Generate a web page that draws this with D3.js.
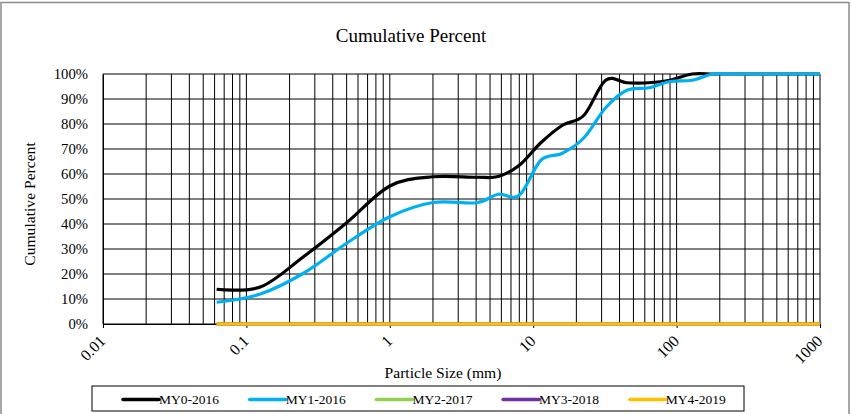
<!DOCTYPE html>
<html>
<head>
<meta charset="utf-8">
<script src="https://cdn.jsdelivr.net/npm/d3@7"></script>
<style>
  html, body { margin: 0; padding: 0; background: #fff; }
  svg { display: block; font-family: "Liberation Serif", "Times New Roman", serif; }
  svg text { font-family: "Liberation Serif", "Times New Roman", serif; }
</style>
</head>
<body>
<svg id="chart" width="852" height="414"></svg>
<script>
// ---- data ----
const sizes = [0.062, 0.125, 0.25, 0.5, 1, 2, 4, 5.7, 8, 11.3, 16, 22.6, 32, 45, 64, 90, 128, 180, 256, 362, 512, 1024];
const my0_2016 = [13.9, 14.8, 26.9, 40.5, 55.2, 58.9, 58.7, 59.0, 63.5, 72.5, 79.5, 83.5, 97.5, 96.5, 96.5, 97.5, 100, 100, 100, 100, 100, 100];
const my1_2016 = [8.7, 12.0, 20.3, 32.3, 42.9, 48.6, 48.5, 51.9, 51.5, 65.5, 68.3, 74.5, 86.5, 93.5, 94.5, 97.0, 97.5, 100, 100, 100, 100, 100];
const my2_2017 = [0, 0, 0, 0, 0, 0, 0, 0, 0, 0, 0, 0, 0, 0, 0, 0, 0, 0, 0, 0, 0, 0];
const my3_2018 = [0, 0, 0, 0, 0, 0, 0, 0, 0, 0, 0, 0, 0, 0, 0, 0, 0, 0, 0, 0, 0, 0];
const my4_2019 = [0, 0, 0, 0, 0, 0, 0, 0, 0, 0, 0, 0, 0, 0, 0, 0, 0, 0, 0, 0, 0, 0];
const seriesNames = ["MY0-2016", "MY1-2016", "MY2-2017", "MY3-2018", "MY4-2019"];
const seriesColors = ["#000000", "#00B0F0", "#92D050", "#7030A0", "#FFC000"];
const xTickValues = [0.01, 0.1, 1, 10, 100, 1000];
const xTickLabels = ["0.01", "0.1", "1", "10", "100", "1000"];
const yTickValues = [0, 10, 20, 30, 40, 50, 60, 70, 80, 90, 100];
const titleText = "Cumulative Percent";
const xTitle = "Particle Size (mm)";
const yTitle = "Cumulative Percent";

// ---- layout ----
const FONT = "Liberation Serif, Times New Roman, serif";
const svg = d3.select("#chart");
const L = 103, R = 820, T = 74, B = 324;

const x = d3.scaleLog().domain([0.01, 1000]).range([L, R]);
const y = d3.scaleLinear().domain([0, 100]).range([B, T]);

// outer frame
svg.append("rect").attr("x", 1).attr("y", 2.5).attr("width", 848).attr("height", 430)
  .attr("fill", "none").attr("stroke", "#8c8c8c").attr("stroke-width", 1.5);

// title
svg.append("text").attr("x", 411).attr("y", 42).attr("text-anchor", "middle")
  .attr("font-family", FONT).attr("font-size", 19).attr("fill", "#000").text(titleText);

// gridlines vertical (log minor grid)
const vGrid = [];
for (let e = -2; e < 3; e++) {
  for (let k = 1; k <= 9; k++) vGrid.push(k * Math.pow(10, e));
}
vGrid.push(1000);
svg.append("g").selectAll("line").data(vGrid).join("line")
  .attr("x1", d => x(d)).attr("x2", d => x(d))
  .attr("y1", T).attr("y2", B)
  .attr("stroke", "#000").attr("stroke-width", 1);

// gridlines horizontal
svg.append("g").selectAll("line").data(yTickValues).join("line")
  .attr("x1", L).attr("x2", R)
  .attr("y1", d => y(d)).attr("y2", d => y(d))
  .attr("stroke", "#000").attr("stroke-width", 1);

// y axis
const yAxis = d3.axisLeft(y).tickValues(yTickValues).tickSize(0).tickPadding(15)
  .tickFormat(d => d + "%");
const gy = svg.append("g").attr("transform", `translate(${L},0)`).call(yAxis);
gy.attr("font-family", FONT);
gy.select(".domain").attr("stroke", "#000").attr("stroke-width", 1);
gy.selectAll("text").attr("font-size", 14.7).attr("fill", "#000").attr("font-family", FONT);

// x axis
const xAxis = d3.axisBottom(x).tickValues(xTickValues).tickSize(4)
  .tickFormat((d, i) => xTickLabels[i]);
const gx = svg.append("g").attr("transform", `translate(0,${B})`).call(xAxis);
gx.attr("font-family", FONT);
gx.select(".domain").attr("stroke", "#000").attr("stroke-width", 1);
gx.selectAll(".tick line").attr("stroke", "#000");
gx.selectAll("text")
  .attr("font-size", 16).attr("fill", "#000")
  .attr("font-family", FONT)
  .attr("text-anchor", "end")
  .attr("dy", null)
  .attr("y", 0)
  .attr("transform", "translate(3,18) rotate(-45)");

// axis titles
svg.append("text").attr("x", 443).attr("y", 378).attr("text-anchor", "middle")
  .attr("font-family", FONT).attr("font-size", 15.6).attr("fill", "#000").text(xTitle);
svg.append("text").attr("transform", "translate(35,204) rotate(-90)").attr("text-anchor", "middle")
  .attr("font-family", FONT).attr("font-size", 15.6).attr("fill", "#000").text(yTitle);

// series
const seriesData = [my0_2016, my1_2016, my2_2017, my3_2018, my4_2019];
svg.append("defs").append("clipPath").attr("id", "clip")
  .append("rect").attr("x", L).attr("y", 0).attr("width", R - L).attr("height", 414);
const line = d3.line()
  .x((d, i) => x(sizes[i]))
  .y(d => y(d))
  .curve(d3.curveCatmullRom.alpha(0));
const gs = svg.append("g").attr("clip-path", "url(#clip)");
seriesData.forEach((vals, si) => {
  gs.append("path").datum(vals)
    .attr("d", line)
    .attr("fill", "none")
    .attr("stroke", seriesColors[si])
    .attr("stroke-width", 3.2)
    .attr("stroke-linejoin", "round");
});

// legend
const lg = svg.append("g");
lg.append("rect").attr("x", 92).attr("y", 386).attr("width", 652).attr("height", 25)
  .attr("fill", "#fff").attr("stroke", "#000").attr("stroke-width", 1);
seriesNames.forEach((name, i) => {
  const lx = 123 + i * 126.7;
  lg.append("line").attr("x1", lx).attr("x2", lx + 36).attr("y1", 399.5).attr("y2", 399.5)
    .attr("stroke", seriesColors[i]).attr("stroke-width", 3.5).attr("stroke-linecap", "round");
  lg.append("text").attr("x", lx + 36).attr("y", 404).attr("font-size", 13.5)
    .attr("font-family", FONT).attr("fill", "#000").text(name);
});
</script>
</body>
</html>
